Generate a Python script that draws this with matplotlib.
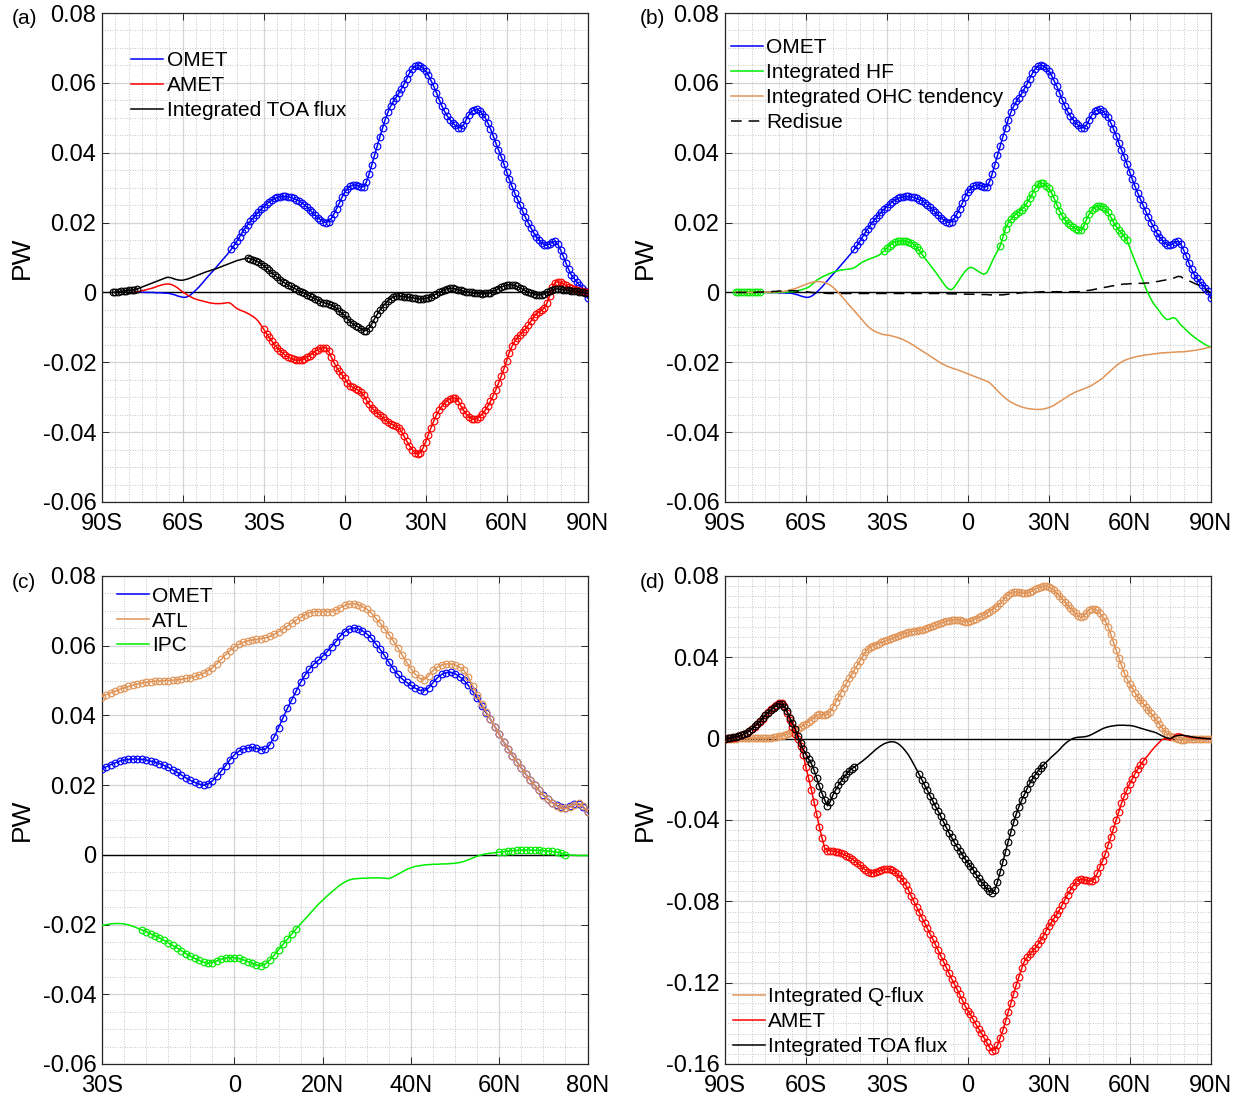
import numpy as np
import matplotlib
matplotlib.use('Agg')
import matplotlib.pyplot as plt
from matplotlib.ticker import MultipleLocator

plt.rcParams['font.family'] = ['Liberation Sans', 'DejaVu Sans']
plt.rcParams['axes.unicode_minus'] = False

# meridional energy transports, 1 deg latitude steps, units of 1e-3 PW
OMET_START = -78
omet = [0.2, 0.2, 0.1, 0.1, 0.0, 0.0, 0.0, 0.0, -0.1, -0.1,
        -0.1, -0.2, -0.2, -0.3, -0.5, -0.7, -1.0, -1.2, -1.4, -1.4,
        -1.1, -0.6, 0.1, 0.8, 1.6, 2.5, 3.4, 4.3, 5.2, 6.0,
        6.9, 7.8, 8.7, 9.6, 10.5, 11.4, 12.4, 13.5, 14.7, 15.9,
        17.2, 18.3, 19.4, 20.4, 21.3, 22.2, 23.0, 23.8, 24.6, 25.3,
        25.9, 26.4, 26.9, 27.2, 27.4, 27.5, 27.5, 27.4, 27.2, 26.9,
        26.6, 26.2, 25.7, 25.1, 24.4, 23.7, 22.9, 22.1, 21.4, 20.8,
        20.3, 20.0, 20.3, 21.2, 22.5, 24.0, 25.6, 27.3, 28.7, 29.7,
        30.4, 30.7, 30.8, 30.6, 30.2, 30.3, 31.6, 33.8, 36.5, 39.3,
        42.0, 44.5, 47.0, 49.5, 51.6, 53.3, 54.7, 55.8, 57.0, 58.3,
        59.7, 61.2, 62.8, 64.0, 64.8, 65.1, 64.9, 64.3, 63.4, 62.2,
        60.6, 59.0, 57.2, 55.2, 53.4, 51.8, 50.5, 49.5, 48.6, 47.8,
        47.2, 47.1, 47.9, 49.4, 50.8, 51.8, 52.3, 52.4, 52.0, 51.1,
        50.1, 48.6, 46.9, 44.9, 42.8, 40.8, 38.9, 36.8, 34.6, 32.4,
        30.4, 28.5, 26.7, 25.0, 23.2, 21.5, 20.0, 18.5, 17.1, 16.0,
        15.0, 14.2, 13.6, 13.5, 13.9, 14.5, 14.6, 13.8, 12.2, 10.4,
        8.4, 6.6, 5.1, 4.0, 3.0, 2.1, 1.3, 0.4, -1.6]

AMET_START = -78
amet = [0.1, 0.2, 0.3, 0.5, 0.7, 0.9, 1.1, 1.3, 1.6, 1.9,
        2.1, 2.3, 2.4, 2.4, 2.2, 1.8, 1.3, 0.7, 0.1, -0.4,
        -0.9, -1.3, -1.7, -2.0, -2.2, -2.4, -2.6, -2.8, -3.0, -3.1,
        -3.2, -3.2, -3.2, -3.1, -3.0, -2.9, -3.3, -4.0, -4.6, -5.0,
        -5.3, -5.6, -6.0, -6.4, -6.9, -7.5, -8.3, -9.4, -10.6, -11.8,
        -12.9, -14.0, -15.0, -15.9, -16.7, -17.4, -18.0, -18.5, -18.9, -19.2,
        -19.4, -19.4, -19.3, -19.0, -18.6, -18.1, -17.5, -16.9, -16.4, -16.0,
        -15.8, -15.9, -16.8, -18.5, -20.1, -21.5, -22.6, -23.6, -24.6, -25.9,
        -26.7, -27.2, -27.6, -28.0, -28.6, -29.5, -30.8, -32.0, -33.0, -33.8,
        -34.5, -35.1, -35.8, -36.5, -37.1, -37.6, -37.9, -38.3, -38.8, -39.8,
        -41.2, -42.6, -43.9, -45.0, -45.9, -46.3, -45.9, -44.6, -42.8, -40.7,
        -38.7, -36.8, -35.1, -33.7, -32.6, -31.7, -31.0, -30.5, -30.2, -30.2,
        -31.0, -32.4, -33.7, -34.8, -35.6, -36.1, -36.3, -36.1, -35.6, -34.8,
        -33.8, -32.6, -31.2, -29.6, -27.9, -26.0, -24.0, -21.9, -19.6, -17.2,
        -15.4, -14.0, -13.0, -12.1, -11.3, -10.5, -9.4, -8.2, -7.0, -6.2,
        -5.6, -5.1, -4.4, -3.0, -0.9, 1.5, 2.8, 3.1, 2.9, 2.5,
        2.0, 1.6, 1.3, 1.0, 0.7, 0.5, 0.3, 0.1, 0.0]

TOA_START = -86
toa = [0.0, 0.1, 0.2, 0.3, 0.4, 0.5, 0.6, 0.7, 0.8, 1.0,
       1.3, 1.6, 1.9, 2.2, 2.5, 2.8, 3.1, 3.4, 3.7, 4.0,
       4.3, 4.3, 4.1, 3.8, 3.6, 3.5, 3.5, 3.7, 3.9, 4.2,
       4.5, 4.8, 5.1, 5.4, 5.7, 6.0, 6.2, 6.5, 6.7, 7.0,
       7.3, 7.6, 7.9, 8.2, 8.5, 8.8, 9.1, 9.3, 9.5, 9.7,
       9.8, 9.7, 9.4, 9.1, 8.7, 8.2, 7.6, 7.0, 6.3, 5.6,
       5.0, 4.3, 3.7, 3.1, 2.6, 2.1, 1.7, 1.3, 0.9, 0.5,
       0.2, -0.2, -0.6, -1.0, -1.4, -1.8, -2.2, -2.6, -2.9, -3.1,
       -3.3, -3.6, -4.0, -4.6, -5.3, -6.0, -6.6, -7.5, -8.4, -9.0,
       -9.5, -9.9, -10.4, -10.9, -10.9, -10.2, -9.0, -7.6, -6.3, -5.1,
       -4.1, -3.2, -2.4, -1.8, -1.3, -1.0, -1.0, -1.1, -1.2, -1.3,
       -1.4, -1.5, -1.7, -1.8, -1.9, -1.8, -1.7, -1.5, -1.2, -0.8,
       -0.4, 0.0, 0.4, 0.8, 1.1, 1.2, 1.2, 1.0, 0.8, 0.6,
       0.4, 0.2, 0.1, 0.0, -0.2, -0.3, -0.3, -0.4, -0.3, -0.3,
       -0.1, 0.3, 0.7, 1.1, 1.5, 1.8, 2.1, 2.2, 2.2, 2.0,
       1.7, 1.3, 0.9, 0.5, 0.1, -0.2, -0.4, -0.6, -0.7, -0.6,
       -0.4, 0.0, 0.4, 0.8, 1.0, 1.0, 0.9, 0.8, 0.7, 0.6,
       0.5, 0.4, 0.3, 0.1, 0.0, -0.1, -0.3]

HF_START = -86
hf = [0.0, 0.0, 0.0, 0.0, 0.0, 0.0, 0.0, 0.0, 0.0, 0.0,
      0.0, 0.0, 0.0, 0.0, 0.0, 0.0, 0.0, 0.1, 0.1, 0.1,
      0.2, 0.2, 0.3, 0.5, 0.7, 0.9, 1.2, 1.5, 2.1, 2.8,
      3.5, 4.0, 4.4, 4.8, 5.1, 5.5, 5.8, 6.0, 6.2, 6.4,
      6.5, 6.6, 6.7, 6.8, 7.1, 7.6, 8.2, 8.7, 9.1, 9.4,
      9.7, 10.0, 10.3, 10.6, 11.2, 11.9, 12.7, 13.4, 14.0, 14.4,
      14.7, 14.8, 14.8, 14.7, 14.5, 14.2, 13.7, 13.0, 12.1, 11.0,
      9.9, 8.9, 7.9, 6.9, 5.9, 4.8, 3.7, 2.6, 1.6, 0.9,
      0.8, 1.5, 2.6, 3.8, 5.0, 6.0, 6.8, 7.2, 7.0, 6.5,
      6.0, 5.5, 5.2, 5.6, 7.0, 8.8, 10.4, 11.8, 13.3, 15.8,
      18.3, 20.0, 21.0, 21.8, 22.5, 23.1, 23.7, 24.6, 25.7, 26.9,
      28.3, 29.8, 30.9, 31.4, 31.2, 30.6, 29.8, 28.6, 27.0, 25.1,
      23.4, 22.0, 20.8, 19.9, 19.3, 18.7, 18.2, 17.8, 17.8, 18.9,
      20.8, 22.4, 23.5, 24.3, 24.7, 24.8, 24.6, 23.9, 22.9, 21.6,
      20.2, 18.9, 17.9, 17.0, 16.0, 14.9, 13.0, 11.0, 9.0, 7.1,
      5.2, 3.3, 1.3, -0.5, -2.0, -3.3, -4.3, -5.3, -6.4, -7.3,
      -7.8, -7.6, -7.2, -7.4, -8.3, -9.3, -10.0, -10.8, -11.5, -12.2,
      -12.8, -13.4, -13.9, -14.4, -14.9, -15.3, -15.6]

OHC_START = -86
ohc = [0.0, 0.0, 0.0, 0.0, 0.0, 0.0, 0.0, 0.0, 0.1, 0.1,
       0.1, 0.1, 0.1, 0.1, 0.1, 0.2, 0.2, 0.2, 0.3, 0.5,
       0.7, 0.9, 1.1, 1.4, 1.7, 2.0, 2.3, 2.6, 2.8, 3.0,
       3.1, 3.1, 3.0, 2.8, 2.5, 2.1, 1.5, 0.8, 0.0, -0.9,
       -1.8, -2.7, -3.6, -4.5, -5.3, -6.2, -7.1, -8.0, -8.9, -9.7,
       -10.4, -10.9, -11.3, -11.6, -11.9, -12.1, -12.2, -12.3, -12.5, -12.7,
       -12.9, -13.2, -13.5, -13.9, -14.3, -14.7, -15.2, -15.7, -16.2, -16.7,
       -17.2, -17.7, -18.2, -18.7, -19.2, -19.7, -20.2, -20.6, -21.0, -21.3,
       -21.6, -21.9, -22.1, -22.4, -22.7, -23.0, -23.3, -23.6, -23.9, -24.2,
       -24.5, -24.8, -25.1, -25.4, -25.8, -26.5, -27.3, -28.1, -28.9, -29.6,
       -30.3, -30.9, -31.4, -31.8, -32.2, -32.5, -32.8, -33.0, -33.2, -33.3,
       -33.4, -33.5, -33.5, -33.5, -33.4, -33.2, -33.0, -32.7, -32.3, -31.8,
       -31.3, -30.8, -30.3, -29.8, -29.3, -28.9, -28.5, -28.2, -27.9, -27.6,
       -27.3, -27.0, -26.6, -26.1, -25.6, -25.1, -24.5, -23.8, -23.1, -22.4,
       -21.7, -21.0, -20.4, -19.9, -19.5, -19.2, -18.9, -18.7, -18.5, -18.3,
       -18.2, -18.0, -17.9, -17.8, -17.7, -17.6, -17.5, -17.4, -17.3, -17.3,
       -17.2, -17.2, -17.1, -17.1, -17.0, -17.0, -17.0, -16.9, -16.8, -16.7,
       -16.6, -16.5, -16.3, -16.2, -16.0, -15.8, -15.7]

RES_START = -86
residue = [0.0, 0.0, 0.0, 0.0, 0.0, 0.0, 0.0, 0.0, 0.1, 0.1,
           0.1, 0.1, 0.2, 0.2, 0.3, 0.3, 0.4, 0.4, 0.5, 0.5,
           0.5, 0.5, 0.5, 0.4, 0.4, 0.3, 0.2, 0.1, 0.0, -0.1,
           -0.1, -0.2, -0.2, -0.2, -0.3, -0.3, -0.3, -0.3, -0.3, -0.3,
           -0.3, -0.3, -0.3, -0.3, -0.3, -0.3, -0.3, -0.3, -0.3, -0.3,
           -0.3, -0.3, -0.3, -0.3, -0.3, -0.3, -0.3, -0.3, -0.3, -0.3,
           -0.3, -0.3, -0.3, -0.3, -0.3, -0.3, -0.3, -0.3, -0.3, -0.3,
           -0.3, -0.3, -0.3, -0.3, -0.3, -0.3, -0.3, -0.3, -0.3, -0.4,
           -0.4, -0.4, -0.4, -0.4, -0.4, -0.5, -0.5, -0.5, -0.5, -0.6,
           -0.6, -0.6, -0.6, -0.6, -0.7, -0.7, -0.7, -0.7, -0.7, -0.7,
           -0.6, -0.5, -0.4, -0.3, -0.3, -0.2, -0.1, 0.0, 0.0, 0.1,
           0.1, 0.1, 0.1, 0.2, 0.2, 0.2, 0.2, 0.2, 0.2, 0.2,
           0.2, 0.2, 0.2, 0.2, 0.2, 0.2, 0.2, 0.2, 0.3, 0.4,
           0.5, 0.6, 0.7, 0.9, 1.0, 1.2, 1.3, 1.5, 1.6, 1.8,
           1.9, 2.1, 2.2, 2.3, 2.4, 2.4, 2.5, 2.5, 2.6, 2.6,
           2.6, 2.6, 2.7, 2.7, 2.8, 2.9, 3.1, 3.2, 3.4, 3.5,
           3.7, 3.8, 4.0, 4.3, 4.6, 4.5, 4.0, 3.6, 3.3, 3.0,
           2.6, 2.3, 1.9, 1.4, 0.9, 0.4, 0.0]

BASIN_START = -30
atl = [45.4, 46.0, 46.5, 47.0, 47.5, 47.9, 48.3, 48.7, 49.0, 49.3,
       49.5, 49.7, 49.8, 49.9, 50.0, 50.0, 50.1, 50.2, 50.4, 50.6,
       50.8, 51.2, 51.6, 52.1, 52.8, 53.7, 54.8, 56.1, 57.4, 58.6,
       59.6, 60.4, 61.0, 61.4, 61.6, 61.8, 62.0, 62.3, 62.7, 63.3,
       64.0, 64.8, 65.6, 66.4, 67.3, 68.1, 68.9, 69.5, 69.8, 69.8,
       69.8, 69.8, 69.8, 70.2, 70.9, 71.6, 72.0, 72.1, 71.8, 71.2,
       70.5, 69.4, 67.9, 66.5, 64.9, 63.2, 61.4, 59.4, 57.3, 55.3,
       53.4, 51.8, 50.6, 50.3, 51.4, 52.9, 53.9, 54.5, 54.8, 54.8,
       54.5, 53.9, 52.9, 51.0, 48.5, 45.9, 43.4, 41.1, 38.9, 36.8,
       34.6, 32.4, 30.4, 28.5, 26.7, 25.0, 23.2, 21.5, 20.0, 18.5,
       17.0, 15.9, 14.9, 14.1, 13.5, 13.3, 13.7, 14.4, 14.8, 14.0,
       12.4]

ipc = [-20.3, -20.0, -19.8, -19.7, -19.7, -19.8, -20.1, -20.5, -21.0, -21.5,
       -22.0, -22.6, -23.2, -23.8, -24.5, -25.2, -26.0, -26.7, -27.5, -28.3,
       -29.0, -29.7, -30.3, -30.8, -31.1, -30.9, -30.4, -29.9, -29.6, -29.5,
       -29.5, -29.7, -30.1, -30.6, -31.1, -31.6, -31.8, -31.3, -30.2, -28.8,
       -27.2, -25.7, -24.2, -22.7, -21.2, -19.8, -18.4, -17.0, -15.6, -14.2,
       -13.0, -11.8, -10.7, -9.6, -8.6, -7.8, -7.2, -6.9, -6.8, -6.7,
       -6.7, -6.6, -6.6, -6.6, -6.7, -6.8, -6.3, -5.6, -4.9, -4.2,
       -3.7, -3.3, -3.1, -2.9, -2.8, -2.7, -2.7, -2.6, -2.6, -2.5,
       -2.4, -2.2, -1.9, -1.4, -0.9, -0.4, 0.0, 0.3, 0.5, 0.6,
       0.8, 0.9, 1.1, 1.2, 1.3, 1.4, 1.4, 1.4, 1.3, 1.3,
       1.2, 1.1, 1.0, 0.8, 0.5, 0.1, -0.1, -0.1, -0.2, -0.2,
       -0.2]

SLAB_START = -90
qflux = [0.0, 0.0, 0.0, 0.0, 0.0, 0.1, 0.1, 0.1, 0.1, 0.2,
         0.2, 0.2, 0.2, 0.3, 0.3, 0.3, 0.4, 0.5, 0.7, 0.9,
         1.2, 1.5, 1.9, 2.3, 2.8, 3.4, 4.1, 4.9, 5.7, 6.5,
         7.3, 8.3, 9.3, 10.4, 11.6, 12.0, 11.8, 11.7, 11.9, 13.2,
         15.6, 18.0, 20.4, 22.7, 25.0, 27.4, 29.7, 31.8, 33.8, 36.0,
         38.3, 40.5, 42.6, 44.3, 45.2, 45.8, 46.3, 46.8, 47.3, 47.8,
         48.3, 48.8, 49.3, 49.9, 50.5, 51.1, 51.6, 52.0, 52.4, 52.7,
         52.9, 53.1, 53.3, 53.6, 54.0, 54.4, 54.8, 55.3, 55.8, 56.3,
         56.8, 57.3, 57.7, 58.1, 58.4, 58.6, 58.6, 58.4, 58.0, 57.6,
         57.5, 57.8, 58.3, 59.0, 59.6, 60.2, 60.9, 61.7, 62.5, 63.4,
         64.3, 65.3, 66.6, 68.0, 69.5, 70.7, 71.6, 72.1, 72.2, 71.9,
         71.6, 71.5, 71.7, 72.2, 72.8, 73.5, 74.2, 74.8, 75.0, 75.1,
         74.7, 73.9, 72.9, 71.6, 70.2, 68.8, 67.3, 65.7, 64.2, 63.0,
         61.6, 60.3, 59.6, 60.2, 62.0, 63.5, 63.9, 63.7, 63.2, 61.6,
         59.6, 57.8, 55.0, 51.5, 47.5, 43.5, 39.8, 36.0, 32.5, 29.4,
         26.9, 24.7, 22.6, 20.6, 18.9, 17.3, 15.6, 14.0, 12.4, 10.7,
         9.0, 7.3, 5.4, 3.8, 2.5, 1.5, 0.8, 0.2, -0.4, -0.7,
         -0.6, -0.4, -0.2, -0.1, 0.0, 0.0, 0.0, 0.0, 0.0, 0.0,
         0.0]

amet_slab = [0.0, 0.1, 0.3, 0.5, 0.8, 1.2, 1.7, 2.3, 3.0, 3.8,
             4.7, 5.8, 7.0, 8.4, 9.9, 11.4, 12.9, 14.4, 15.7, 16.8,
             17.5, 17.4, 16.0, 12.8, 9.0, 5.5, 2.5, 0.0, -3.5, -7.8,
             -14.0, -19.5, -25.0, -31.0, -37.2, -43.5, -49.0, -54.0, -55.0, -55.1,
             -55.3, -55.5, -55.8, -56.3, -56.9, -57.6, -58.3, -59.1, -60.1, -61.2,
             -62.3, -63.4, -64.5, -65.4, -66.0, -66.0, -65.5, -65.0, -64.6, -64.2,
             -64.0, -64.1, -64.6, -65.5, -66.8, -68.3, -70.0, -72.0, -74.5, -77.3,
             -80.0, -82.7, -85.4, -88.0, -90.6, -93.2, -95.9, -98.5, -101.2, -104.0,
             -106.8, -109.6, -112.4, -115.2, -118.0, -120.6, -123.2, -125.8, -128.6, -131.4,
             -133.7, -135.6, -138.0, -140.4, -142.6, -144.6, -147.0, -149.4, -151.6, -153.4,
             -153.0, -150.8, -147.2, -143.5, -139.0, -134.5, -130.0, -125.5, -121.0, -117.0,
             -113.0, -109.5, -107.5, -106.0, -104.6, -103.0, -101.2, -99.2, -97.0, -94.6,
             -92.2, -90.4, -88.3, -86.3, -84.2, -81.7, -79.2, -76.7, -74.5, -72.4,
             -70.6, -69.4, -69.2, -69.3, -69.6, -70.0, -70.1, -68.9, -66.3, -63.1,
             -60.1, -56.6, -52.4, -48.5, -44.3, -40.0, -35.9, -31.7, -28.4, -25.3,
             -22.3, -19.8, -17.2, -15.0, -13.0, -11.2, -9.5, -7.9, -6.2, -4.6,
             -3.2, -1.8, -0.5, 0.0, -0.3, -0.8, 0.5, 2.0, 2.4, 2.2,
             1.6, 1.1, 0.8, 0.6, 0.5, 0.3, 0.2, 0.1, 0.1, 0.0,
             0.0]

toa_slab = [0.0, 0.1, 0.3, 0.6, 0.9, 1.2, 1.6, 2.2, 2.9, 3.8,
            4.8, 6.0, 7.3, 8.7, 10.1, 11.5, 12.8, 14.0, 15.2, 16.2,
            17.0, 16.9, 15.8, 13.5, 10.4, 7.5, 4.8, 1.2, -2.0, -5.2,
            -7.8, -10.0, -12.2, -15.5, -19.4, -23.5, -27.0, -30.3, -33.0, -31.0,
            -27.8, -25.2, -23.0, -21.0, -19.2, -17.4, -15.8, -14.8, -13.9, -12.9,
            -12.0, -11.0, -9.9, -8.8, -7.6, -6.4, -5.2, -4.2, -3.3, -2.5,
            -2.0, -1.6, -1.5, -1.7, -2.3, -3.3, -4.6, -6.2, -8.0, -10.2,
            -12.6, -15.1, -17.6, -20.2, -22.8, -25.4, -28.0, -30.6, -33.2, -35.6,
            -38.2, -40.9, -43.6, -46.2, -48.6, -51.0, -53.1, -55.0, -57.0, -59.2,
            -61.0, -62.6, -64.5, -66.6, -68.6, -70.3, -72.0, -73.6, -74.9, -75.8,
            -74.5, -70.5, -65.7, -60.6, -55.6, -50.6, -45.8, -41.2, -37.0, -33.4,
            -30.3, -27.4, -24.6, -22.0, -19.8, -17.8, -16.0, -14.4, -13.0, -11.7,
            -10.4, -9.1, -7.9, -6.7, -5.4, -3.9, -2.6, -1.5, -0.6, 0.1,
            0.5, 0.7, 0.8, 0.9, 1.1, 1.5, 2.1, 2.8, 3.5, 4.2,
            4.9, 5.4, 5.8, 6.1, 6.3, 6.5, 6.6, 6.6, 6.6, 6.5,
            6.5, 6.3, 6.0, 5.6, 5.2, 4.8, 4.4, 4.0, 3.6, 3.3,
            2.8, 2.1, 1.4, 0.8, 0.3, 0.0, 0.6, 1.3, 1.6, 1.7,
            1.6, 1.4, 1.2, 0.9, 0.7, 0.5, 0.4, 0.2, 0.1, 0.0,
            0.0]

# latitude bands where the transport is significant (drawn with circles)
omet_sig = [(-42, 90)]
amet_sig = [(-30, 90)]
toa_sig = [(-86, -77), (-36, 90)]
hf_sig = [(-86, -77), (-31, -17), (12, 59)]
atl_sig = [(-30, 80)]
ipc_sig = [(-21, 14), (60, 75)]
qflux_sig = [(-90, 90)]
amet_slab_sig = [(-90, 65)]
toa_slab_sig = [(-90, -42), (-18, 28)]

ORANGE = (0.88, 0.58, 0.34)
GREEN = (0.0, 0.93, 0.0)

glob_ticks = [-90, -60, -30, 0, 30, 60, 90]
glob_labels = ['90S', '60S', '30S', '0', '30N', '60N', '90N']
basin_ticks = [-30, 0, 20, 40, 60, 80]
basin_labels = ['30S', '0', '20N', '40N', '60N', '80N']


def lats(start, vals, end):
    lat = np.arange(start, start + len(vals))
    assert lat[-1] == end, (start, len(vals))
    return lat


def draw(ax, start, vals, end, color, spans, label, ls='-'):
    lat = lats(start, vals, end)
    y = np.asarray(vals) * 1e-3
    if ls == '--':
        line, = ax.plot(lat, y, color=color, lw=1.1, dashes=(7, 4.5), label=label, zorder=3)
    else:
        line, = ax.plot(lat, y, color=color, lw=1.1, label=label, zorder=3)
    if spans:
        m = np.zeros(len(lat), bool)
        for a, b in spans:
            m |= (lat >= a) & (lat <= b)
        ax.plot(lat[m], y[m], 'o', ms=4.8, mfc='none', mec=color, mew=0.85, zorder=3)
    return line


def style(ax, xlim, xt, xl, ylim, yt, yl):
    ax.set_xlim(xlim)
    ax.set_ylim(ylim)
    ax.set_xticks(xt, xl)
    ax.set_yticks(yt, yl)
    ax.xaxis.set_minor_locator(MultipleLocator(5))
    ax.yaxis.set_minor_locator(MultipleLocator(0.005))
    ax.set_axisbelow(True)
    ax.grid(True, which='major', color='0.83', lw=0.9, ls='-')
    ax.grid(True, which='minor', color='0.70', lw=0.6, ls=(0, (1, 2)))
    ax.axhline(0, color='k', lw=1.0, zorder=2)
    ax.tick_params(which='major', direction='in', length=5, width=0.7,
                   top=True, right=True, labelsize=17, colors='0.15',
                   labelcolor='k')
    ax.tick_params(axis='x', which='major', pad=8)
    ax.tick_params(axis='y', which='major', pad=4)
    ax.tick_params(which='minor', length=0, top=True, right=True)
    for s in ax.spines.values():
        s.set_color('0.15')
        s.set_linewidth(0.9)
    ax.set_ylabel('PW', fontsize=19)
    ax.yaxis.set_label_coords(-0.140, 0.5)


def legend(ax, x, y):
    ax.legend(loc='upper left', bbox_to_anchor=(x, y), frameon=False,
              fontsize=15, handlelength=1.55, handletextpad=0.15,
              labelspacing=0.28, borderpad=0, borderaxespad=0)


fig = plt.figure(figsize=(12.41, 10.97), dpi=100)
W, H = 1241, 1097
ax_a = fig.add_axes([102 / W, 1 - 502 / H, 485.5 / W, 489 / H])
ax_b = fig.add_axes([725 / W, 1 - 502 / H, 485.5 / W, 489 / H])
ax_c = fig.add_axes([102 / W, 1 - 1064 / H, 485.5 / W, 488 / H])
ax_d = fig.add_axes([725 / W, 1 - 1064 / H, 485.5 / W, 488 / H])

pw_ticks = [0.08, 0.06, 0.04, 0.02, 0, -0.02, -0.04, -0.06]
pw_labels = ['0.08', '0.06', '0.04', '0.02', '0', '-0.02', '-0.04', '-0.06']

# (a) ocean, atmosphere and TOA
style(ax_a, (-90, 90), glob_ticks, glob_labels, (-0.06, 0.08), pw_ticks, pw_labels)
draw(ax_a, OMET_START, omet, 90, 'b', omet_sig, 'OMET')
draw(ax_a, AMET_START, amet, 90, 'r', amet_sig, 'AMET')
draw(ax_a, TOA_START, toa, 90, 'k', toa_sig, 'Integrated TOA flux')
legend(ax_a, 0.060, 0.922)

# (b) ocean heat budget
style(ax_b, (-90, 90), glob_ticks, glob_labels, (-0.06, 0.08), pw_ticks, pw_labels)
draw(ax_b, OMET_START, omet, 90, 'b', omet_sig, 'OMET')
draw(ax_b, HF_START, hf, 90, GREEN, hf_sig, 'Integrated HF')
draw(ax_b, OHC_START, ohc, 90, ORANGE, None, 'Integrated OHC tendency')
draw(ax_b, RES_START, residue, 90, 'k', None, 'Redisue', ls='--')
legend(ax_b, 0.012, 0.948)

# (c) basin decomposition
style(ax_c, (-30, 80), basin_ticks, basin_labels, (-0.06, 0.08), pw_ticks, pw_labels)
omet_c = omet[(BASIN_START - OMET_START):(80 - OMET_START + 1)]
draw(ax_c, BASIN_START, omet_c, 80, 'b', omet_sig, 'OMET')
draw(ax_c, BASIN_START, atl, 80, ORANGE, atl_sig, 'ATL')
draw(ax_c, BASIN_START, ipc, 80, GREEN, ipc_sig, 'IPC')
legend(ax_c, 0.030, 0.978)

# (d) slab ocean experiment
style(ax_d, (-90, 90), glob_ticks, glob_labels, (-0.16, 0.08),
      [0.08, 0.04, 0, -0.04, -0.08, -0.12, -0.16],
      ['0.08', '0.04', '0', '-0.04', '-0.08', '-0.12', '-0.16'])
draw(ax_d, SLAB_START, qflux, 90, ORANGE, qflux_sig, 'Integrated Q-flux')
draw(ax_d, SLAB_START, amet_slab, 90, 'r', amet_slab_sig, 'AMET')
draw(ax_d, SLAB_START, toa_slab, 90, 'k', toa_slab_sig, 'Integrated TOA flux')
legend(ax_d, 0.016, 0.157)

for lab, x, y in [('(a)', 12, 19), ('(b)', 640, 19), ('(c)', 12, 582), ('(d)', 640, 582)]:
    fig.text(x / W, 1 - y / H, lab, fontsize=15, va='center', ha='left')

fig.savefig('out.png', dpi=100)
